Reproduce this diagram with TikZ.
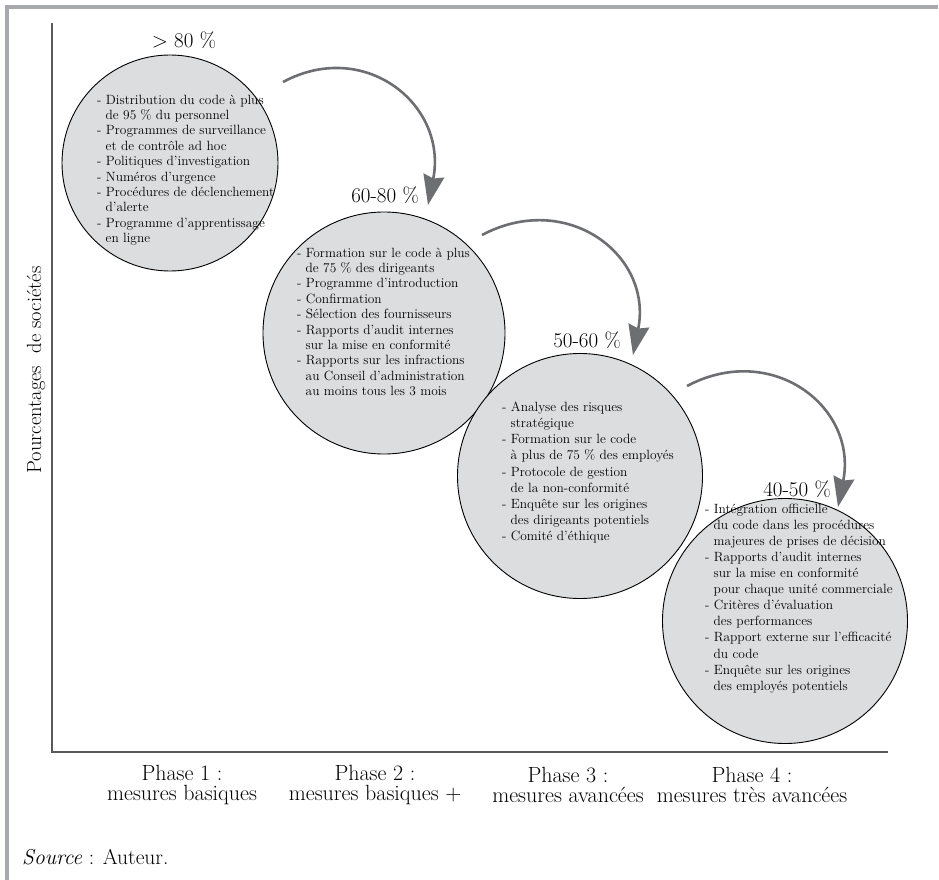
\documentclass[tikz,border=0pt]{standalone}
\usepackage{fontspec}
\usetikzlibrary{arrows.meta}
\definecolor{circfill}{HTML}{DCDDDE}
\definecolor{arrowgray}{HTML}{6D6E71}
\definecolor{axisgray}{HTML}{58595B}
\definecolor{framegray}{HTML}{A7A9AC}
\newcommand\myind{\hspace*{8.5pt}}
\begin{document}
\begin{tikzpicture}[x=1pt,y=-1pt,
  phase/.style={circle, draw=black, line width=0.9pt, fill=circfill, inner sep=0pt},
  items/.style={anchor=north west, inner sep=0pt, align=left, font=\fontsize{13.4}{15.4}\selectfont},
  pct/.style={font=\fontsize{21}{22}\selectfont, inner sep=0pt},
  phaselbl/.style={align=center, font=\fontsize{22}{20.5}\selectfont, inner sep=0pt},
  flow/.style={draw=arrowgray, line width=2.6pt, -{Stealth[length=30pt,width=21pt,inset=3pt]}},
  axisline/.style={draw=axisgray, line width=1.6pt},
]
\useasboundingbox (0,0) rectangle (939,880);
\fill[white] (0,0) rectangle (939,880);
% frame
\fill[framegray] (5,5) rectangle (938,9);
\fill[framegray] (5,5) rectangle (9,880);
% axes
\coordinate (ytop) at (52,23);
\coordinate (orig) at (52,752);
\coordinate (xend) at (888,752);
\draw[axisline] (ytop) -- (orig) -- (xend);
% circles
\node[phase, minimum size=216pt] (c1) at (170,163) {};
\node[phase, minimum size=242pt] (c2) at (384,333) {};
\node[phase, minimum size=245pt] (c3) at (580,476) {};
\node[phase, minimum size=245pt] (c4) at (785,621) {};
% texts
\node[items] (t1) at (97,94.5) {- Distribution du code à plus\\\myind de 95~\% du personnel\\- Programmes de surveillance\\\myind et de contrôle ad hoc\\- Politiques d’investigation\\- Numéros d’urgence\\- Procédures de déclenchement\\\myind d’alerte\\- Programme d’apprentissage\\\myind en ligne};
\node[items] (t2) at (297,247.5) {- Formation sur le code à plus\\\myind de 75~\% des dirigeants\\- Programme d’introduction\\- Confirmation\\- Sélection des fournisseurs\\- Rapports d’audit internes\\\myind sur la mise en conformité\\- Rapports sur les infractions\\\myind au Conseil d’administration\\\myind au moins tous les 3 mois};
\node[items, font=\fontsize{13.4}{16.2}\selectfont] (t3) at (502,401.5) {- Analyse des risques\\\myind stratégique\\- Formation sur le code\\\myind à plus de 75~\% des employés\\- Protocole de gestion\\\myind de la non-conformité\\- Enquête sur les origines\\\myind des dirigeants potentiels\\- Comité d’éthique};
\node[items, font=\fontsize{13.4}{16.1}\selectfont] (t4) at (705,503.5) {- Intégration officielle\\\myind du code dans les procédures\\\myind majeures de prises de décision\\- Rapports d’audit internes\\\myind sur la mise en conformité\\\myind pour chaque unité commerciale\\- Critères d’évaluation\\\myind des performances\\- Rapport externe sur l’efficacité\\\myind du code\\- Enquête sur les origines\\\myind des employés potentiels};
% percentages
\node[pct] (p1) at (184,40) {> 80~\%};
\node[pct] (p2) at (385,195) {60-80~\%};
\node[pct] (p3) at (587,340) {50-60~\%};
\node[pct] (p4) at (797,489.5) {40-50~\%};
% arrows
\coordinate (a1s) at (283,82);  \coordinate (a1e) at (428,205);
\coordinate (a2s) at (482,235); \coordinate (a2e) at (633,355);
\coordinate (a3s) at (687,386); \coordinate (a3e) at (838,507);
\draw[flow] (a1s) .. controls +(82,-44) and +(20,-100) .. (a1e);
\draw[flow] (a2s) .. controls +(85,-45) and +(20,-100) .. (a2e);
\draw[flow] (a3s) .. controls +(85,-45) and +(20,-100) .. (a3e);
% axis labels
\node[rotate=90, font=\fontsize{20.5}{21}\selectfont, inner sep=0pt] (ylab) at (36,370) {Pourcentages\ \ de sociétés};
\node[phaselbl] (ph1) at (182,785) {Phase 1 :\\mesures basiques};
\node[phaselbl] (ph2) at (375,785) {Phase 2 :\\mesures basiques +};
\node[phaselbl] (ph3) at (568,785) {Phase 3 :\\mesures avancées};
\node[phaselbl] (ph4) at (752,785) {Phase 4 :\\mesures très avancées};
\node[anchor=west, inner sep=0pt, font=\fontsize{21.5}{22}\selectfont] (src) at (22,857) {\textit{Source} : Auteur.};
\end{tikzpicture}
\end{document}
